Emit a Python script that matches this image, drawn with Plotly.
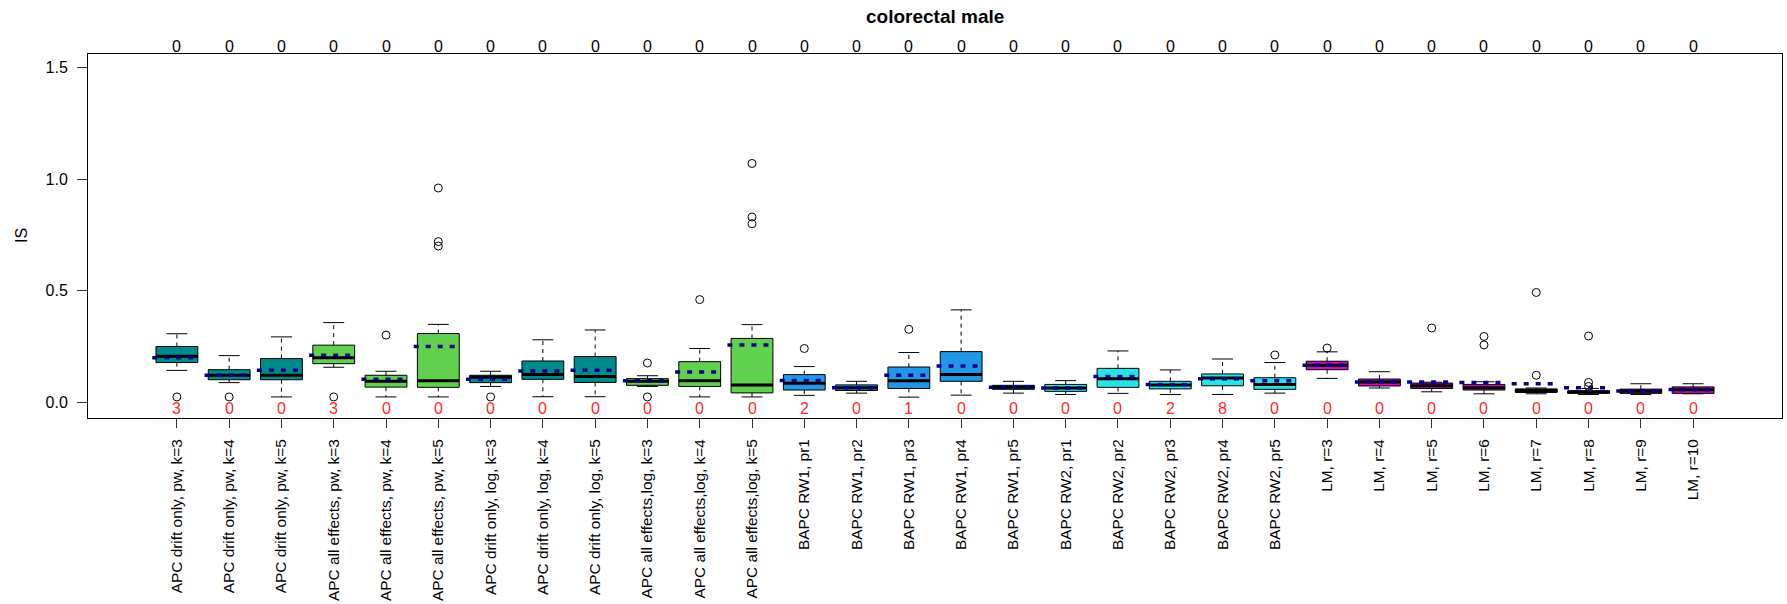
import plotly.graph_objects as go

# ---- data -------------------------------------------------------------
labels = [
    "APC drift only, pw, k=3", "APC drift only, pw, k=4", "APC drift only, pw, k=5",
    "APC all effects, pw, k=3", "APC all effects, pw, k=4", "APC all effects, pw, k=5",
    "APC drift only, log, k=3", "APC drift only, log, k=4", "APC drift only, log, k=5",
    "APC all effects,log, k=3", "APC all effects,log, k=4", "APC all effects,log, k=5",
    "BAPC RW1, pr1", "BAPC RW1, pr2", "BAPC RW1, pr3", "BAPC RW1, pr4", "BAPC RW1, pr5",
    "BAPC RW2, pr1", "BAPC RW2, pr2", "BAPC RW2, pr3", "BAPC RW2, pr4", "BAPC RW2, pr5",
    "LM, r=3", "LM, r=4", "LM, r=5", "LM, r=6", "LM, r=7", "LM, r=8", "LM, r=9", "LM, r=10",
]

family = [
    "APC drift", "APC drift", "APC drift",
    "APC all", "APC all", "APC all",
    "APC drift", "APC drift", "APC drift",
    "APC all", "APC all", "APC all",
    "BAPC RW1", "BAPC RW1", "BAPC RW1", "BAPC RW1", "BAPC RW1",
    "BAPC RW2", "BAPC RW2", "BAPC RW2", "BAPC RW2", "BAPC RW2",
    "LM", "LM", "LM", "LM", "LM", "LM", "LM", "LM",
]

q1 = [0.178, 0.101, 0.101, 0.173, 0.068, 0.067, 0.088, 0.103, 0.089, 0.076, 0.071, 0.042,
      0.055, 0.053, 0.062, 0.094, 0.058,
      0.049, 0.067, 0.060, 0.074, 0.058,
      0.146, 0.073, 0.062, 0.055, 0.044, 0.040, 0.040, 0.040]
median = [0.206, 0.121, 0.121, 0.200, 0.094, 0.097, 0.112, 0.125, 0.116, 0.094, 0.097, 0.078,
          0.085, 0.065, 0.097, 0.124, 0.067,
          0.064, 0.106, 0.077, 0.109, 0.080,
          0.166, 0.091, 0.074, 0.065, 0.053, 0.047, 0.050, 0.056]
q3 = [0.250, 0.146, 0.196, 0.256, 0.121, 0.308, 0.121, 0.185, 0.205, 0.106, 0.182, 0.286,
      0.124, 0.078, 0.158, 0.227, 0.076,
      0.080, 0.152, 0.094, 0.127, 0.110,
      0.184, 0.104, 0.086, 0.080, 0.060, 0.051, 0.059, 0.069]
whisker_low = [0.143, 0.088, 0.024, 0.157, 0.024, 0.024, 0.071, 0.025, 0.025, 0.071, 0.024, 0.024,
               0.031, 0.041, 0.023, 0.032, 0.041,
               0.035, 0.040, 0.035, 0.035, 0.041,
               0.107, 0.064, 0.047, 0.038, 0.038, 0.035, 0.035, 0.038]
whisker_high = [0.307, 0.209, 0.293, 0.357, 0.139, 0.349, 0.139, 0.280, 0.324, 0.119, 0.241, 0.348,
                0.160, 0.094, 0.223, 0.414, 0.094,
                0.097, 0.230, 0.145, 0.194, 0.178,
                0.226, 0.137, 0.090, 0.092, 0.064, 0.062, 0.083, 0.083]
means = [0.200, 0.121, 0.143, 0.211, 0.103, 0.250, 0.103, 0.140, 0.143, 0.097, 0.136, 0.257,
         0.098, 0.065, 0.121, 0.163, 0.067,
         0.064, 0.116, 0.080, 0.106, 0.097,
         0.166, 0.091, 0.091, 0.089, 0.083, 0.065, 0.051, 0.057]
outliers = [
    [0.024], [0.024], [], [0.024], [0.301], [0.96, 0.72, 0.70],
    [0.024], [], [], [0.176, 0.024], [0.46], [1.07, 0.83, 0.80],
    [0.241], [], [0.327], [], [],
    [], [], [], [], [0.212],
    [0.243], [], [0.333], [0.295, 0.257], [0.492, 0.121], [0.297, 0.089, 0.071], [], [],
]
top_counts = [0, 0, 0, 0, 0, 0, 0, 0, 0, 0, 0, 0, 0, 0, 0, 0, 0, 0, 0, 0,
              0, 0, 0, 0, 0, 0, 0, 0, 0, 0]
bottom_counts = [3, 0, 0, 3, 0, 0, 0, 0, 0, 0, 0, 0,
                 2, 0, 1, 0, 0,
                 0, 0, 2, 8, 0,
                 0, 0, 0, 0, 0, 0, 0, 0]

# ---- styling ----------------------------------------------------------
family_colors = {
    "APC drift": "#008B8B",
    "APC all": "#61D04F",
    "BAPC RW1": "#2297E6",
    "BAPC RW2": "#28E2E5",
    "LM": "#CD0BBC",
}
FONT = "Liberation Sans, Arial, Helvetica, sans-serif"
BOXW = 0.8
n = len(labels)
pos = list(range(1, n + 1))

fig = go.Figure()

# boxes (whiskers drawn separately in dashed style)
for fam, col in family_colors.items():
    idx = [i for i in range(n) if family[i] == fam]
    fig.add_trace(go.Box(
        x=[pos[i] for i in idx],
        q1=[q1[i] for i in idx],
        median=[median[i] for i in idx],
        q3=[q3[i] for i in idx],
        lowerfence=[q1[i] for i in idx],
        upperfence=[q3[i] for i in idx],
        width=BOXW,
        whiskerwidth=0,
        fillcolor=col,
        line=dict(color="black", width=1),
        boxpoints=False,
        showlegend=False,
        hoverinfo="skip",
    ))

# dashed whiskers
wx, wy = [], []
for i in range(n):
    wx += [pos[i], pos[i], None, pos[i], pos[i], None]
    wy += [q3[i], whisker_high[i], None, q1[i], whisker_low[i], None]
fig.add_trace(go.Scatter(x=wx, y=wy, mode="lines",
                         line=dict(color="black", width=1, dash="4px,4px"),
                         showlegend=False, hoverinfo="skip"))

# whisker staples
sx, sy = [], []
for i in range(n):
    for v in (whisker_high[i], whisker_low[i]):
        sx += [pos[i] - BOXW / 4, pos[i] + BOXW / 4, None]
        sy += [v, v, None]
fig.add_trace(go.Scatter(x=sx, y=sy, mode="lines",
                         line=dict(color="black", width=1),
                         showlegend=False, hoverinfo="skip"))

# thick medians
mx, my = [], []
for i in range(n):
    mx += [pos[i] - BOXW / 2, pos[i] + BOXW / 2, None]
    my += [median[i], median[i], None]
fig.add_trace(go.Scatter(x=mx, y=my, mode="lines",
                         line=dict(color="black", width=3),
                         showlegend=False, hoverinfo="skip"))

# dotted means
ax_, ay_ = [], []
for i in range(n):
    ax_ += [pos[i] - 0.47, pos[i] + 0.40, None]
    ay_ += [means[i], means[i], None]
fig.add_trace(go.Scatter(x=ax_, y=ay_, mode="lines",
                         line=dict(color="#00008B", width=3.5, dash="5px,7px"),
                         showlegend=False, hoverinfo="skip"))

# outliers
ox, oy = [], []
for i in range(n):
    for v in outliers[i]:
        ox.append(pos[i])
        oy.append(v)
fig.add_trace(go.Scatter(x=ox, y=oy, mode="markers",
                         marker=dict(symbol="circle-open", size=8, color="black",
                                     line=dict(width=1, color="black")),
                         showlegend=False, hoverinfo="skip"))

# counts above the frame and below the boxes
annotations = []
for i in range(n):
    annotations.append(dict(x=pos[i], y=1, xref="x", yref="paper", yanchor="middle",
                            yshift=8, text=str(top_counts[i]), showarrow=False,
                            font=dict(family=FONT, size=16, color="black")))
    annotations.append(dict(x=pos[i], y=-0.029, xref="x", yref="y", yanchor="middle",
                            text=str(bottom_counts[i]), showarrow=False,
                            font=dict(family=FONT, size=16, color="#FF2A2A")))

# title and y-axis label
annotations.append(dict(x=0.5, y=1, xref="paper", yref="paper", yanchor="middle",
                        yshift=38, text="<b>colorectal male</b>", showarrow=False,
                        font=dict(family=FONT, size=19, color="black")))
annotations.append(dict(x=0, y=0.5, xref="paper", yref="paper", xanchor="center",
                        yanchor="middle", xshift=-67, text="IS", textangle=-90,
                        showarrow=False, font=dict(family=FONT, size=16, color="black")))

fig.update_layout(
    width=1787, height=604,
    margin=dict(l=88, r=5, t=54, b=186, autoexpand=False),
    paper_bgcolor="white", plot_bgcolor="white",
    boxmode="overlay",
    font=dict(family=FONT, size=16, color="black"),
    annotations=annotations,
    xaxis=dict(
        range=[-0.7, n + 1.7],
        tickmode="array", tickvals=pos, ticktext=labels, tickangle=-90,
        ticks="outside", ticklen=9, tickcolor="#333", tickwidth=1,
        ticklabelstandoff=5, automargin=False,
        showline=True, mirror=True, linecolor="black", linewidth=1,
        showgrid=False, zeroline=False,
        tickfont=dict(family=FONT, size=15.4, color="black"),
    ),
    yaxis=dict(
        range=[-0.0704, 1.5604],
        tickmode="array", tickvals=[0, 0.5, 1.0, 1.5],
        ticktext=["0.0", "0.5", "1.0", "1.5"],
        ticks="outside", ticklen=10, tickcolor="#333", tickwidth=1,
        ticklabelstandoff=6, automargin=False,
        showline=True, mirror=True, linecolor="black", linewidth=1,
        showgrid=False, zeroline=False,
        tickfont=dict(family=FONT, size=16, color="black"),
    ),
)

fig.write_html("out.html", config={"displayModeBar": False},
               post_script="document.body.style.margin='0';")
